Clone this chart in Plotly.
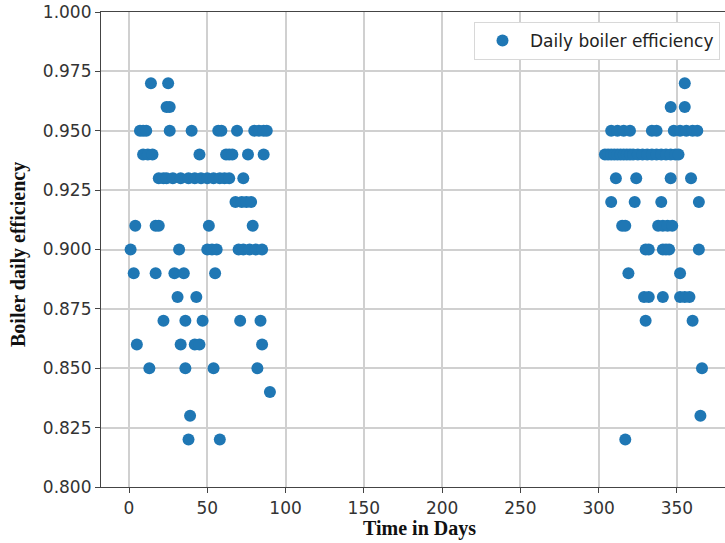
"""
Daily boiler efficiency scatter
"""

import plotly.graph_objects as go

# start of year (days 0-90)
days_early = [14, 25,
              24, 26,
              7, 9, 11, 26, 40, 57, 59, 69, 80, 83, 86, 88,
              9, 12, 15, 45, 62, 64, 66, 76, 86,
              19, 22, 24, 28, 33, 38, 42, 46, 50, 54, 58, 61, 64, 73,
              68, 72, 75, 78,
              4, 17, 19, 51, 79,
              1, 32, 50, 53, 56, 70, 73, 77, 81, 85,
              3, 17, 29, 35, 55,
              31, 43,
              22, 36, 47, 71, 84,
              5, 33, 42, 45, 85,
              13, 36, 54, 82,
              90,
              39,
              38, 58]
eff_early = [0.97, 0.97,
             0.96, 0.96,
             0.95, 0.95, 0.95, 0.95, 0.95, 0.95, 0.95, 0.95, 0.95, 0.95, 0.95, 0.95,
             0.94, 0.94, 0.94, 0.94, 0.94, 0.94, 0.94, 0.94, 0.94,
             0.93, 0.93, 0.93, 0.93, 0.93, 0.93, 0.93, 0.93, 0.93, 0.93, 0.93, 0.93, 0.93, 0.93,
             0.92, 0.92, 0.92, 0.92,
             0.91, 0.91, 0.91, 0.91, 0.91,
             0.90, 0.90, 0.90, 0.90, 0.90, 0.90, 0.90, 0.90, 0.90, 0.90,
             0.89, 0.89, 0.89, 0.89, 0.89,
             0.88, 0.88,
             0.87, 0.87, 0.87, 0.87, 0.87,
             0.86, 0.86, 0.86, 0.86, 0.86,
             0.85, 0.85, 0.85, 0.85,
             0.84,
             0.83,
             0.82, 0.82]

# end of year (days 300-366)
days_late = [355,
             346, 355,
             308, 312, 316, 320, 334, 337, 348, 352, 356, 360, 363,
             304, 306, 308, 310, 312, 314, 316, 318, 320, 322, 325, 328, 331, 334,
             337, 340, 343, 346, 349, 351,
             311, 324, 346, 359,
             308, 323, 340, 364,
             315, 317, 338, 341, 344, 347,
             330, 332, 341, 343, 345, 364,
             319, 352,
             329, 332, 341, 352, 355, 358,
             330, 360,
             366,
             365,
             317]
eff_late = [0.97,
            0.96, 0.96,
            0.95, 0.95, 0.95, 0.95, 0.95, 0.95, 0.95, 0.95, 0.95, 0.95, 0.95,
            0.94, 0.94, 0.94, 0.94, 0.94, 0.94, 0.94, 0.94, 0.94, 0.94, 0.94, 0.94, 0.94, 0.94,
            0.94, 0.94, 0.94, 0.94, 0.94, 0.94,
            0.93, 0.93, 0.93, 0.93,
            0.92, 0.92, 0.92, 0.92,
            0.91, 0.91, 0.91, 0.91, 0.91, 0.91,
            0.90, 0.90, 0.90, 0.90, 0.90, 0.90,
            0.89, 0.89,
            0.88, 0.88, 0.88, 0.88, 0.88, 0.88,
            0.87, 0.87,
            0.85,
            0.83,
            0.82]

x_ticks = [0, 50, 100, 150, 200, 250, 300, 350]
y_ticks = [0.800, 0.825, 0.850, 0.875, 0.900, 0.925, 0.950, 0.975, 1.000]

fig = go.Figure()
fig.add_trace(go.Scatter(
    x=days_early + days_late,
    y=eff_early + eff_late,
    mode='markers',
    name='Daily boiler efficiency',
    marker=dict(color='#1f77b4', size=12, line=dict(width=0)),
))

tick_font = dict(family='DejaVu Sans', size=17, color='#333333')
title_font = dict(family='Liberation Serif', size=20, color='#111111')

fig.update_layout(
    width=725, height=543,
    margin=dict(l=101, r=0, t=12, b=56),
    plot_bgcolor='white',
    paper_bgcolor='white',
    showlegend=True,
    legend=dict(
        x=(474 - 101) / 624, y=0.979, xanchor='left', yanchor='top',
        bgcolor='white', bordercolor='#d8d8d8', borderwidth=1,
        itemwidth=45,
        font=dict(family='DejaVu Sans', size=17, color='#222222'),
    ),
)

fig.update_xaxes(
    range=[-17.9, 380.7],
    tickvals=x_ticks,
    ticks='outside', ticklen=5, tickcolor='#444444',
    showgrid=True, gridcolor='#d0d0d0', gridwidth=1.5,
    showline=True, linecolor='#444444', linewidth=1.2, mirror=True,
    zeroline=False, automargin=False,
    tickfont=tick_font,
)
fig.update_yaxes(
    range=[0.8, 1.0],
    tickvals=y_ticks,
    tickformat='.3f',
    ticks='outside', ticklen=5, tickcolor='#444444',
    showgrid=True, gridcolor='#d0d0d0', gridwidth=1.5,
    showline=True, linecolor='#444444', linewidth=1.2, mirror=True,
    zeroline=False, automargin=False,
    tickfont=tick_font,
)

# axis titles placed as annotations to match the original position
fig.add_annotation(
    text='<b>Time in Days</b>', font=title_font, showarrow=False,
    xref='paper', yref='paper', x=(419 - 101) / 624, y=(487 - 528) / 475,
    xanchor='center', yanchor='middle',
)
fig.add_annotation(
    text='<b>Boiler daily efficiency</b>', font=title_font, showarrow=False,
    textangle=-90,
    xref='paper', yref='paper', x=(18 - 101) / 624, y=(487 - 255) / 475,
    xanchor='center', yanchor='middle',
)

# drop the default page margin so the figure sits at the window's corner
fig.write_html("out.html", config={'displayModeBar': False},
               post_script="document.body.style.margin='0';")
